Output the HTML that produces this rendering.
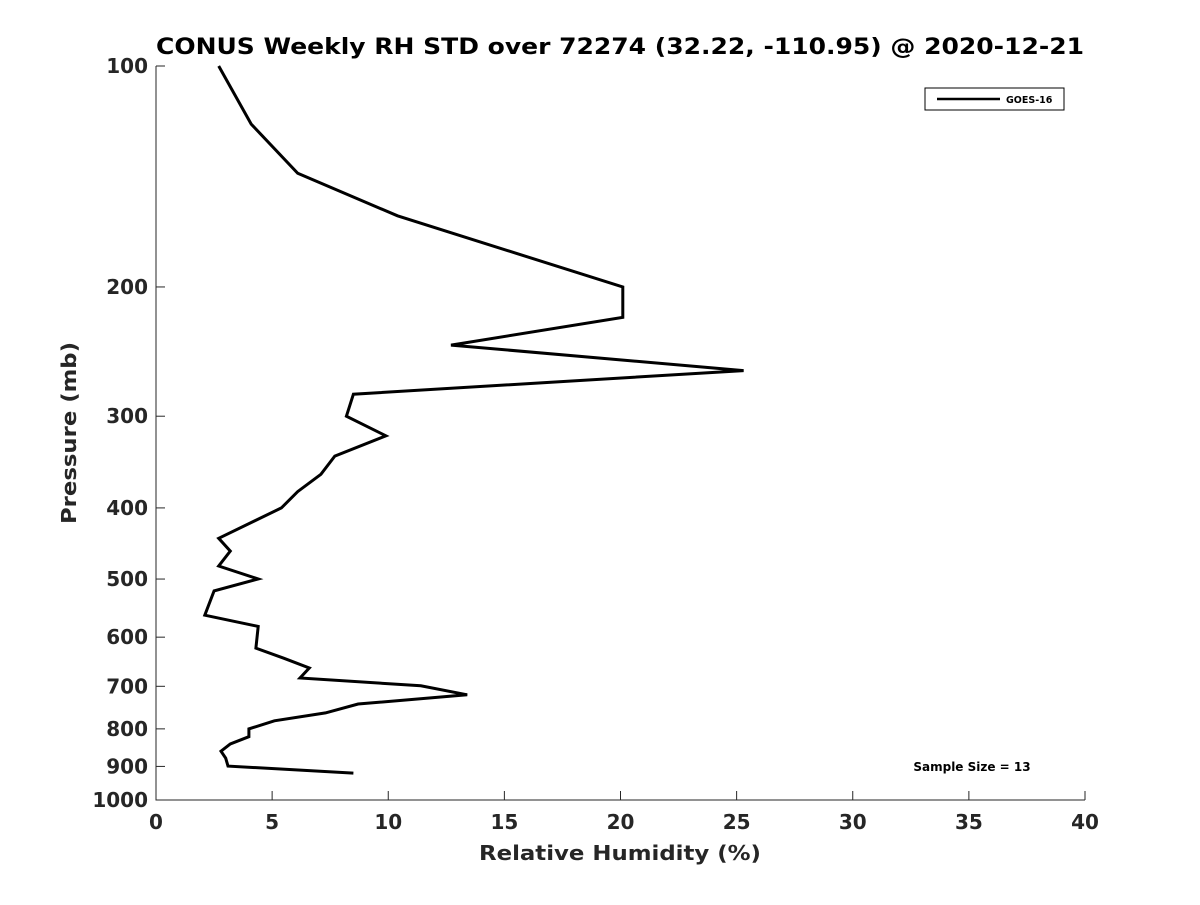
<!DOCTYPE html>
<html><head><meta charset="utf-8"><style>
body{margin:0;background:#fff;}
svg text{font-family:"DejaVu Sans","Liberation Sans",sans-serif;fill:#262626;font-weight:bold;}
</style></head><body>
<svg width="1200" height="900" viewBox="0 0 1200 900" id="chart">
<rect width="1200" height="900" fill="#fff"/>
<text x="620" y="54" text-anchor="middle" font-size="22" textLength="928" lengthAdjust="spacingAndGlyphs" style="fill:#000">CONUS Weekly RH STD over 72274 (32.22, -110.95) @ 2020-12-21</text>
<g id="axes"></g>
<text x="620" y="860" text-anchor="middle" font-size="20" textLength="282" lengthAdjust="spacingAndGlyphs">Relative Humidity (%)</text>
<text transform="translate(76,433) rotate(-90)" text-anchor="middle" font-size="20" textLength="182" lengthAdjust="spacingAndGlyphs">Pressure (mb)</text>
<g>
<rect x="925" y="88" width="139" height="22" fill="#fff" stroke="#000" stroke-width="1"/>
<line x1="937" y1="99" x2="1000" y2="99" stroke="#000" stroke-width="2.5"/>
<text x="1006" y="103" font-size="9.5" style="fill:#000">GOES-16</text>
</g>
<text x="972" y="771" text-anchor="middle" font-size="12" style="fill:#000">Sample Size = 13</text>
</svg>
<script>
const rhValues=[2.7,4.1,6.1,10.4,20.1,20.1,12.7,25.3,8.5,8.2,9.9,7.7,7.1,6.1,5.4,2.7,3.2,2.7,4.4,2.5,2.1,4.4,4.3,5.5,6.6,6.2,11.4,13.4,8.7,7.3,5.1,4.0,4.0,3.2,2.8,3.0,3.1,8.5];
const pressures=[100,120,140,160,200,220,240,260,280,300,319,340,360,380,400,440,458,480,500,519,560,580,621,641,661,682,699,719,740,761,780,800,820,839,858,877,899,919];
const xTicks=[0,5,10,15,20,25,30,35,40];
const yTicks=[100,200,300,400,500,600,700,800,900,1000];
const NS="http://www.w3.org/2000/svg";
const X0=156,X1=1085,Y0=66,Y1=800;
const xs=v=>X0+(v/40)*(X1-X0);
const ys=p=>Y0+(Math.log10(p)-2)*(Y1-Y0);
const g=document.getElementById('axes');
function mk(t,a){const e=document.createElementNS(NS,t);for(const k in a)e.setAttribute(k,a[k]);g.appendChild(e);return e;}
const ax=mk('path',{d:`M${X0},${Y0}L${X0},${Y1}L${X1},${Y1}`,fill:'none',stroke:'#262626','stroke-width':1});


xTicks.forEach(v=>{
 const l=mk('line',{x1:xs(v),x2:xs(v),y1:Y1,y2:Y1-9,stroke:'#262626'});
 
 
 const t=mk('text',{x:xs(v),y:Y1+29,'text-anchor':'middle','font-size':20});
 t.textContent=v;
 
 
});
yTicks.forEach(p=>{
 const l=mk('line',{x1:X0,x2:X0+9,y1:ys(p),y2:ys(p),stroke:'#262626'});
 
 
 const t=mk('text',{x:X0-8,y:ys(p)+7,'text-anchor':'end','font-size':20});
 t.textContent=p;
 
 
});
const d=rhValues.map((v,i)=>(i?'L':'M')+xs(v).toFixed(1)+','+ys(pressures[i]).toFixed(1)).join('');
const line=mk('path',{d:d,fill:'none',stroke:'#000','stroke-width':3,'stroke-linejoin':'miter'});


</script>
</body></html>
